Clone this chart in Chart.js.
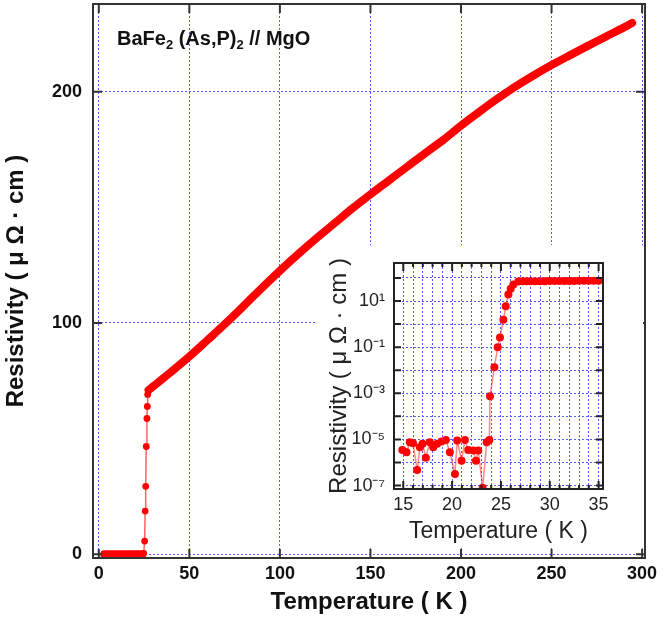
<!DOCTYPE html>
<html>
<head>
<meta charset="utf-8">
<script src="https://cdn.jsdelivr.net/npm/chart.js@4.4.1/dist/chart.umd.min.js"></script>
<style>
  body { margin: 0; background: #fff; }
  #wrap { position: relative; width: 666px; height: 627px; }
  #mainChart { position: absolute; left: 0; top: 0; }
  #insetChart { position: absolute; left: 315px; top: 245px; background: #fff; }
  #note {
    position: absolute; left: 117px; top: 28px;
    font: bold 20px "Liberation Sans", Arial, sans-serif; line-height: 20px;
    color: #111; white-space: nowrap;
  }
  #note sub { font-size: 13px; vertical-align: -4px; line-height: 0; }
</style>
</head>
<body>
<div id="wrap">
  <canvas id="mainChart" width="666" height="627"></canvas>
  <canvas id="insetChart" width="328" height="303"></canvas>
  <div id="note">BaFe<sub>2</sub> (As,P)<sub>2</sub> // MgO</div>
</div>
<script>
// main panel: resistivity vs temperature
const zeroTemp = [3, 8, 13, 18, 24];
const zeroRho = [0, 0, 0, 0, 0];
const transTemp = [23.8, 24.8, 25.3, 25.6, 25.9, 26.2, 26.6, 26.8, 27.0, 27.5];
const transRho = [0, 0.4, 5.7, 18.7, 29.4, 46.6, 58.7, 63.9, 69.1, 71];
const normalTemp = [27.5, 30, 35, 40, 50, 60, 70, 80, 90, 100, 110, 120, 130, 140, 150,
  160, 170, 183, 190, 200, 210, 220, 225, 230, 240, 250, 260, 270, 280, 290, 294.5];
const normalRho = [71, 72.6, 75.7, 78.9, 85.5, 92.6, 99.8, 107.4, 115.1, 122.6, 129.7, 136.5, 143, 149.5, 155.6,
  161.5, 167.4, 175, 179, 185.3, 191.2, 196.9, 199.6, 202.2, 207, 211.5, 215.7, 219.8, 223.8, 227.8, 229.7];
const mainTempTicks = [0, 50, 100, 150, 200, 250, 300];
const mainRhoTicks = [0, 100, 200];

// inset: log scale around Tc
const insetTemp = [14.9, 15.33, 15.67, 16.0, 16.42, 16.7, 16.97, 17.31, 17.72, 18.06, 18.47, 18.92,
  19.36, 19.77, 20.29, 20.52, 20.97, 21.31, 21.65, 22.17, 22.44, 22.68, 23.13, 23.54, 23.81,
  23.88, 24.33, 24.67, 24.9, 25.25, 25.49, 25.76, 26.0, 26.27, 26.78,
  27.2, 27.6, 28, 28.5, 29, 29.5, 30, 30.5, 31, 31.5, 32, 32.5, 33, 33.5, 34, 34.5, 35];
const insetRho = [3.5e-6, 2.8e-6, 7.6e-6, 6.8e-6, 4.7e-7, 4.6e-6, 6.5e-6, 1.6e-6, 7.6e-6, 4.6e-6, 6.5e-6, 8.1e-6,
  9.5e-6, 2.8e-6, 3.2e-7, 8.9e-6, 1.2e-6, 9.5e-6, 3.5e-6, 3.3e-6, 1.2e-6, 3.3e-6, 8.1e-8, 7.6e-6, 9.5e-6,
  7.4e-4, 1.35e-2, 0.1, 0.26, 1.55, 5.9, 19, 34, 52, 71,
  71.5, 71.8, 72, 72.3, 72.6, 72.9, 73.2, 73.5, 73.8, 74, 74.3, 74.6, 74.9, 75.1, 75.4, 75.7, 76];
const insetTempTicks = [15, 16, 17, 18, 19, 20, 21, 22, 23, 24, 25, 26, 27, 28, 29, 30, 31, 32, 33, 34, 35];
const insetTempLabels = [15, 20, 25, 30, 35];
const insetRhoDecades = [-7, -6, -5, -4, -3, -2, -1, 0, 1, 2];
const insetRhoLabels = { '1': '10\u00B9', '-1': '10\u207B\u00B9', '-3': '10\u207B\u00B3', '-5': '10\u207B\u2075', '-7': '10\u207B\u2077' };

const FONT = '"Liberation Sans", Arial, sans-serif';
const RED = '#ff0000';
const GRID = '#5858ff';

function pts(xs, ys) {
  return xs.map((x, i) => ({ x: x, y: ys[i] }));
}

// keep the plot area where the reference has it (no room kept for end labels)
function noPad(s) {
  s.paddingTop = 0;
  s.paddingBottom = 0;
}

// box around the plot area + ticks pointing inwards
const frameTicks = {
  id: 'frameTicks',
  afterDatasetsDraw(chart, args, opts) {
    const { ctx, chartArea: a, scales } = chart;
    ctx.save();
    ctx.strokeStyle = opts.color;
    ctx.lineWidth = opts.width;
    ctx.beginPath();
    opts.xTicks.forEach(t => {
      const px = scales.x.getPixelForValue(t[0]);
      ctx.moveTo(px, a.bottom); ctx.lineTo(px, a.bottom - t[1]);
      ctx.moveTo(px, a.top); ctx.lineTo(px, a.top + t[1]);
    });
    opts.yTicks.forEach(t => {
      const py = scales.y.getPixelForValue(t[0]);
      ctx.moveTo(a.left, py); ctx.lineTo(a.left + t[1], py);
      ctx.moveTo(a.right, py); ctx.lineTo(a.right - t[1], py);
    });
    ctx.stroke();
    ctx.strokeRect(a.left, a.top, a.right - a.left, a.bottom - a.top);
    ctx.restore();
  }
};

new Chart(document.getElementById('mainChart'), {
  type: 'line',
  data: {
    datasets: [
      { data: pts(zeroTemp, zeroRho), borderColor: RED, borderWidth: 8, borderCapStyle: 'round',
        pointRadius: 0 },
      { data: pts(normalTemp, normalRho), borderColor: RED, borderWidth: 8, borderCapStyle: 'round',
        borderJoinStyle: 'round', pointRadius: 0, cubicInterpolationMode: 'monotone' },
      { data: pts(transTemp, transRho), borderColor: 'rgba(255,30,30,0.7)', borderWidth: 1.5,
        pointRadius: 3.4, pointBackgroundColor: RED, pointBorderWidth: 0 }
    ]
  },
  options: {
    responsive: false,
    animation: false,
    layout: { padding: { top: 4, right: 21, left: 0, bottom: 0 } },
    plugins: {
      legend: { display: false },
      tooltip: { enabled: false },
      frameTicks: {
        color: '#333', width: 2,
        xTicks: mainTempTicks.map(v => [v, 9]),
        yTicks: mainRhoTicks.map(v => [v, 9])
      }
    },
    scales: {
      x: {
        type: 'linear', min: -3.2, max: 301.6,
        afterBuildTicks: s => { s.ticks = mainTempTicks.map(v => ({ value: v })); },
        afterFit: s => { s.height = 69; },
        grid: { color: GRID, lineWidth: 1, drawTicks: false },
        border: { display: false, dash: [2, 2] },
        ticks: { padding: 5, color: '#111', maxRotation: 0, autoSkip: false,
          font: { family: FONT, size: 18, weight: 'bold' } },
        title: { display: true, text: 'Temperature ( K )', color: '#111',
          font: { family: FONT, size: 24, weight: 'bold' }, padding: { top: 0, bottom: 10 } }
      },
      y: {
        type: 'linear', min: -1.6, max: 237.9,
        afterBuildTicks: s => { s.ticks = mainRhoTicks.map(v => ({ value: v })); },
        afterFit: s => { s.width = 93; noPad(s); },
        grid: { color: GRID, lineWidth: 1, drawTicks: false },
        border: { display: false, dash: [2, 2] },
        ticks: { padding: 11, color: '#111',
          font: { family: FONT, size: 18, weight: 'bold' } },
        title: { display: true, text: 'Resistivity ( \u03BC \u03A9 \u00B7 cm )', color: '#111',
          font: { family: FONT, size: 24, weight: 'bold' }, padding: { top: 2, bottom: 0 } }
      }
    }
  },
  plugins: [frameTicks]
});

new Chart(document.getElementById('insetChart'), {
  type: 'line',
  data: {
    datasets: [
      { data: pts(insetTemp, insetRho), borderColor: 'rgba(255,40,40,0.55)', borderWidth: 1.5,
        pointRadius: 4, pointBackgroundColor: RED, pointBorderWidth: 0 }
    ]
  },
  options: {
    responsive: false,
    animation: false,
    layout: { padding: { top: 18, right: 40, left: 0, bottom: 0 } },
    plugins: {
      legend: { display: false },
      tooltip: { enabled: false },
      frameTicks: {
        color: '#222', width: 2,
        xTicks: insetTempTicks.map(v => [v, insetTempLabels.includes(v) ? 8 : 4]),
        yTicks: insetRhoDecades.map(e => [Math.pow(10, e), 7])
      }
    },
    scales: {
      x: {
        type: 'linear', min: 14.05, max: 35.45,
        afterBuildTicks: s => { s.ticks = insetTempTicks.map(v => ({ value: v })); },
        afterFit: s => { s.height = 59; },
        grid: { color: GRID, lineWidth: 1, drawTicks: false },
        border: { display: false, dash: [2, 2] },
        ticks: { padding: 5, color: '#222', maxRotation: 0, autoSkip: false,
          font: { family: FONT, size: 18 },
          callback: v => insetTempLabels.includes(v) ? String(v) : '' },
        title: { display: true, text: 'Temperature ( K )', color: '#222',
          font: { family: FONT, size: 23 }, padding: { top: 0, bottom: 3 } }
      },
      y: {
        type: 'logarithmic', min: 7.08e-8, max: 446,
        afterBuildTicks: s => { s.ticks = insetRhoDecades.map(e => ({ value: Math.pow(10, e) })); },
        afterFit: s => { s.width = 79; noPad(s); },
        grid: { color: GRID, lineWidth: 1, drawTicks: false },
        border: { display: false, dash: [2, 2] },
        ticks: { padding: 9, color: '#222', autoSkip: false,
          font: { family: FONT, size: 18 },
          callback: v => insetRhoLabels[String(Math.round(Math.log10(v)))] || '' },
        title: { display: true, text: 'Resistivity ( \u03BC \u03A9 \u00B7 cm )', color: '#222',
          font: { family: FONT, size: 24 }, padding: { top: 10, bottom: 0 } }
      }
    }
  },
  plugins: [frameTicks]
});
</script>
</body>
</html>
